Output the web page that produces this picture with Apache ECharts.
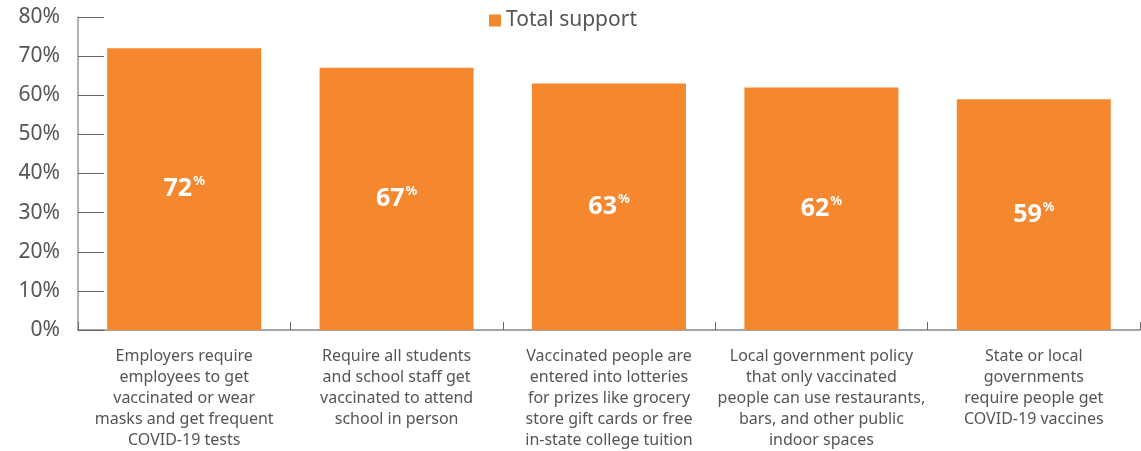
<!DOCTYPE html>
<html><head><meta charset="utf-8">
<script src="https://cdn.jsdelivr.net/npm/echarts@6/dist/echarts.min.js"></script>
<style>html,body{margin:0;padding:0;background:#fff}#c{width:1141px;height:451px}</style>
</head><body><div id="c"></div>
<script>
const categories = [
  "Employers require\nemployees to get\nvaccinated or wear\nmasks and get frequent\nCOVID-19 tests",
  "Require all students\nand school staff get\nvaccinated to attend\nschool in person",
  "Vaccinated people are\nentered into lotteries\nfor prizes like grocery\nstore gift cards or free\nin-state college tuition",
  "Local government policy\nthat only vaccinated\npeople can use restaurants,\nbars, and other public\nindoor spaces",
  "State or local\ngovernments\nrequire people get\nCOVID-19 vaccines"
];
const totalSupport = [72, 67, 63, 62, 59];
const seriesName = "Total support";
const yTicks = { min: 0, max: 80, interval: 10 };

const font = "Noto Sans";
const chart = echarts.init(document.getElementById('c'));
chart.setOption({
  animation: false,
  textStyle: { fontFamily: font },
  legend: {
    data: [seriesName], top: 5, left: 484,
    itemWidth: 12, itemHeight: 12, itemGap: 10,
    icon: 'rect',
    textStyle: { fontSize: 21, color: '#555', fontFamily: font }
  },
  grid: { left: 78, right: 1, top: 17, bottom: 121, containLabel: false },
  xAxis: {
    type: 'category', data: categories,
    axisLine: { lineStyle: { color: '#888', width: 1.5 } },
    axisTick: { show: true, inside: true, length: 8, lineStyle: { color: '#666' } },
    axisLabel: { interval: 0, fontSize: 16, lineHeight: 21, color: '#555', margin: 16, fontFamily: font }
  },
  yAxis: {
    type: 'value', min: yTicks.min, max: yTicks.max, interval: yTicks.interval,
    axisLine: { show: true, lineStyle: { color: '#999', width: 1.5 } },
    axisTick: { show: true, inside: true, length: 26, lineStyle: { color: '#666' } },
    splitLine: { show: false },
    axisLabel: { formatter: '{value}%', fontSize: 21, color: '#555', margin: 18, fontFamily: font }
  },
  series: [{
    name: seriesName, type: 'bar', data: totalSupport, barWidth: '72.5%',
    itemStyle: { color: '#F5882F' },
    label: {
      show: true, position: 'inside',
      formatter: p => '{v|' + p.value + '}{s|%}',
      rich: {
        v: { fontSize: 25, fontWeight: 'bold', color: '#fff', fontFamily: font, lineHeight: 28 },
        s: { fontSize: 13, fontWeight: 'bold', color: '#fff', fontFamily: font, verticalAlign: 'top', lineHeight: 28, padding: [0, 0, 12, 1] }
      }
    }
  }]
});
</script></body></html>
